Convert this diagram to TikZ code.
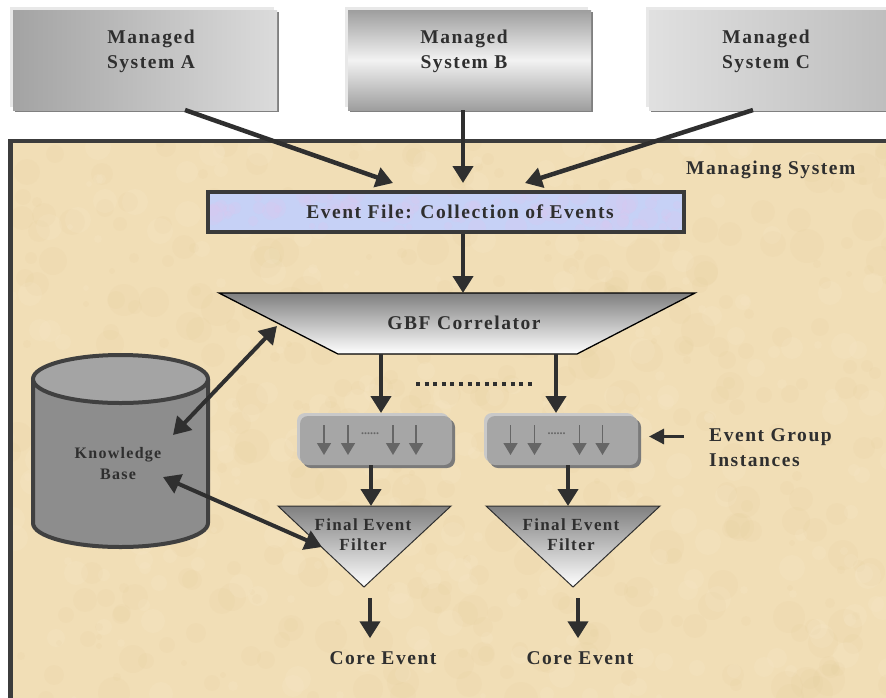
\documentclass[tikz,border=0pt]{standalone}
\usepackage{fontspec}
\setmainfont{Liberation Serif}
\newfontfamily\lblfont{Liberation Serif}[LetterSpace=8]
\usetikzlibrary{arrows.meta,calc}

\definecolor{ink}{HTML}{2F2F2F}
\definecolor{parch}{HTML}{F1DEB6}
\definecolor{parchdark}{HTML}{D9B97E}
\definecolor{parchlight}{HTML}{FBF0D8}
\definecolor{panelline}{HTML}{3C3C3C}
\definecolor{efblue}{HTML}{C6D1F6}
\definecolor{eflilac}{HTML}{D9C8F0}
\definecolor{efline}{HTML}{3A3A3A}
\definecolor{egfill}{HTML}{A6A6A6}
\definecolor{eglight}{HTML}{C9C9C9}
\definecolor{egdark}{HTML}{7A7A7A}
\definecolor{kbbody}{HTML}{8D8D8D}
\definecolor{kbtop}{HTML}{A4A4A4}
\definecolor{kbline}{HTML}{404040}
\definecolor{tick}{HTML}{666666}
\definecolor{boxlight}{HTML}{E8E8E8}
\definecolor{boxdark}{HTML}{808080}

\begin{document}
\begin{tikzpicture}[x=1pt,y=-1pt,
  txt/.style={font=\lblfont\bfseries\fontsize{19.5}{25}\selectfont, text=ink, align=center, inner sep=0pt},
  smalltxt/.style={font=\lblfont\bfseries\fontsize{17}{20}\selectfont, text=ink, align=center, inner sep=0pt},
  kbtxt/.style={font=\lblfont\bfseries\fontsize{16}{21}\selectfont, text=ink, align=center, inner sep=0pt},
  msbox/.style={minimum width=#1, minimum height=100pt, inner sep=0pt, outer sep=0pt},
  flow/.style={draw=ink, line width=4.5pt, -{Triangle[length=17pt,width=20pt]}},
  flowsm/.style={draw=ink, line width=3pt, -{Triangle[length=15pt,width=15pt]}},
  dbl/.style={draw=ink, line width=4pt, {Triangle[length=17pt,width=20pt]}-{Triangle[length=17pt,width=20pt]}},
  tickarrow/.style={draw=tick, line width=1.5pt, -{Triangle[length=12pt,width=14pt]}},
  egbox/.style={fill=egfill, rounded corners=8pt, minimum width=152pt, minimum height=49pt, inner sep=0pt, outer sep=0pt},
  dotline/.style={draw=ink, line width=4pt, dash pattern=on 4pt off 4.6pt},
]
\useasboundingbox (0,0) rectangle (886,697);
\fill[white] (0,0) rectangle (886,697);

% ---------- managing system panel ----------
\node[fill=parch, minimum width=900pt, minimum height=580pt, anchor=north west,
      inner sep=0pt, outer sep=0pt] (ms) at (10.5,141) {};
\begin{scope}
  \clip (ms.north west) rectangle (ms.south east);
  \pgfmathsetseed{11}
  \foreach \i in {1,...,420}{
    \pgfmathsetmacro{\px}{10+random(0,880)}
    \pgfmathsetmacro{\py}{140+random(0,560)}
    \pgfmathsetmacro{\pr}{3+random(0,14)}
    \fill[parchdark, opacity=0.06] (\px,\py) circle[radius=\pr];
  }
  \foreach \i in {1,...,300}{
    \pgfmathsetmacro{\px}{10+random(0,880)}
    \pgfmathsetmacro{\py}{140+random(0,560)}
    \pgfmathsetmacro{\pr}{3+random(0,10)}
    \fill[parchlight, opacity=0.12] (\px,\py) circle[radius=\pr];
  }
\end{scope}
\draw[panelline, line width=4.5pt] (ms.south west) |- (ms.north east);
\node[txt, anchor=west] (mstitle) at (686,170) {Managing System};

% ---------- managed systems ----------
\fill[boxlight] (10,7) rectangle (274,107);
\fill[boxdark] (15,12) rectangle (279,112);
\node[msbox=264pt, left color=black!36, right color=black!14] (A) at (145,60) {};
\node[txt] (Atext) at (151,51) {Managed\\System A};

\fill[boxlight] (345,7) rectangle (588,107);
\fill[boxdark] (350,12) rectangle (593,112);
\node[msbox=243pt, top color=black!38, bottom color=black!38, middle color=black!5] (B) at (469.5,60) {};
\node[txt] (Btext) at (464,51) {Managed\\System B};

\fill[boxlight] (646,7) rectangle (900,107);
\fill[boxdark] (651,12) rectangle (900,112);
\node[msbox=246pt, shading=axis, shading angle=135, left color=black!12, right color=black!26] (C) at (772,60) {};
\node[txt] (Ctext) at (766,51) {Managed\\System C};

% ---------- event file ----------
\node[draw=efline, line width=4pt, fill=efblue, minimum width=476pt, minimum height=40pt,
      inner sep=0pt] (ef) at (446,212) {};
\begin{scope}
  \clip (208,192) rectangle (684,232);
  \pgfmathsetseed{5}
  \foreach \i in {1,...,80}{
    \pgfmathsetmacro{\px}{208+random(0,476)}
    \pgfmathsetmacro{\py}{192+random(0,40)}
    \pgfmathsetmacro{\pr}{3+random(0,8)}
    \fill[eflilac, opacity=0.3] (\px,\py) circle[radius=\pr];
  }
\end{scope}
\draw[efline, line width=4pt] (208,192) rectangle (684,232);
\node[txt] (eftext) at (460,212) {Event File: Collection of Events};

\draw[flow] ([xshift=40pt]A.south) -- ([xshift=-53pt,yshift=7pt]ef.north);
\draw[flow] ([xshift=-6.5pt]B.south) -- ([xshift=17pt,yshift=7pt]ef.north);
\draw[flow] ([xshift=-19pt]C.south) -- ([xshift=79pt,yshift=7pt]ef.north);

% ---------- GBF correlator ----------
\coordinate (g1) at (219,293);
\coordinate (g2) at (695,293);
\coordinate (g3) at (577,354);
\coordinate (g4) at (338,354);
\shade[top color=black!50, bottom color=white, draw=black, line width=1.3pt]
  (g1) -- (g2) -- (g3) -- (g4) -- cycle;
\node[txt] (gbf) at (464,323) {GBF Correlator};
\coordinate (gtop) at (463,293);
\draw[flow] (ef.south -| gtop) -- (gtop);

% ---------- event group instances ----------
\fill[eglight, rounded corners=8pt] (297,413) rectangle (449,462);
\fill[egdark, rounded corners=8pt] (303,419) rectangle (455,468);
\node[egbox] (egl) at (376,440.5) {};
\fill[eglight, rounded corners=8pt] (484,413) rectangle (635,462);
\fill[egdark, rounded corners=8pt] (490,419) rectangle (641,468);
\node[egbox, minimum width=151pt] (egr) at (562.5,440.5) {};

\foreach \b in {egl,egr}{
  \foreach \dx in {-52,-28,17,40}{
    \draw[tickarrow] ([xshift=\dx pt,yshift=15.5pt]\b.center) -- ([xshift=\dx pt,yshift=-14.5pt]\b.center);
  }
  \node[font=\bfseries\fontsize{12}{12}\selectfont, text=tick, inner sep=0pt]
    at ([xshift=-6pt,yshift=7pt]\b.center) {......};
}

\coordinate (gout1) at (381,354);
\coordinate (gout2) at (556,354);
\draw[flow] (gout1) -- ([yshift=3pt]egl.north -| gout1);
\draw[flow] (gout2) -- ([yshift=3pt]egr.north -| gout2);
\draw[dotline] (416,384) -- (533,384);

\node[txt, anchor=west, align=left] (egi) at (709,447.5) {Event Group\\Instances};
\draw[flowsm] ([xshift=-25pt,yshift=11pt]egi.west) -- ([xshift=-60pt,yshift=11pt]egi.west);

% ---------- final event filters ----------
\coordinate (fl1) at (278,506);
\coordinate (fl2) at (451,506);
\coordinate (fl3) at (364,587);
\coordinate (fr1) at (486,506);
\coordinate (fr2) at (660,506);
\coordinate (fr3) at (573,587);
\shade[top color=black!50, bottom color=white, draw=ink, line width=1pt] (fl1) -- (fl2) -- (fl3) -- cycle;
\shade[top color=black!50, bottom color=white, draw=ink, line width=1pt] (fr1) -- (fr2) -- (fr3) -- cycle;
\node[smalltxt] (fltext) at (363,534.5) {Final Event\\Filter};
\node[smalltxt] (frtext) at (571,534.5) {Final Event\\Filter};

\coordinate (flin) at (371,506);
\coordinate (frin) at (568,506);
\draw[flow] (egl.south -| flin) -- (flin);
\draw[flow] (egr.south -| frin) -- (frin);

% ---------- core events ----------
\node[txt] (core1) at (383,658) {Core Event};
\node[txt] (core2) at (580,658) {Core Event};
\coordinate (fo1) at (370,598);
\coordinate (fo2) at (578,598);
\draw[flow] (fo1) -- ([yshift=13pt]core1.north -| fo1);
\draw[flow] (fo2) -- ([yshift=13pt]core2.north -| fo2);

% ---------- knowledge base ----------
\fill[kbbody] (33,379) -- (33,523) arc[start angle=180, end angle=0, x radius=87.5, y radius=24] -- (208,379) -- cycle;
\draw[kbline, line width=4pt] (33,379) -- (33,523) arc[start angle=180, end angle=0, x radius=87.5, y radius=24] -- (208,379);
\filldraw[fill=kbtop, draw=kbline, line width=4pt] (120.5,379) ellipse[x radius=87.5, y radius=24];
\node[kbtxt] (kb) at (118,463.5) {Knowledge\\Base};

\coordinate (kbA) at (173,435);
\coordinate (gbfA) at (277,326);
\coordinate (kbB) at (163,477);
\coordinate (flA) at (322,547);
\draw[dbl] (kbA) -- (gbfA);
\draw[dbl] (kbB) -- (flA);
\end{tikzpicture}
\end{document}
